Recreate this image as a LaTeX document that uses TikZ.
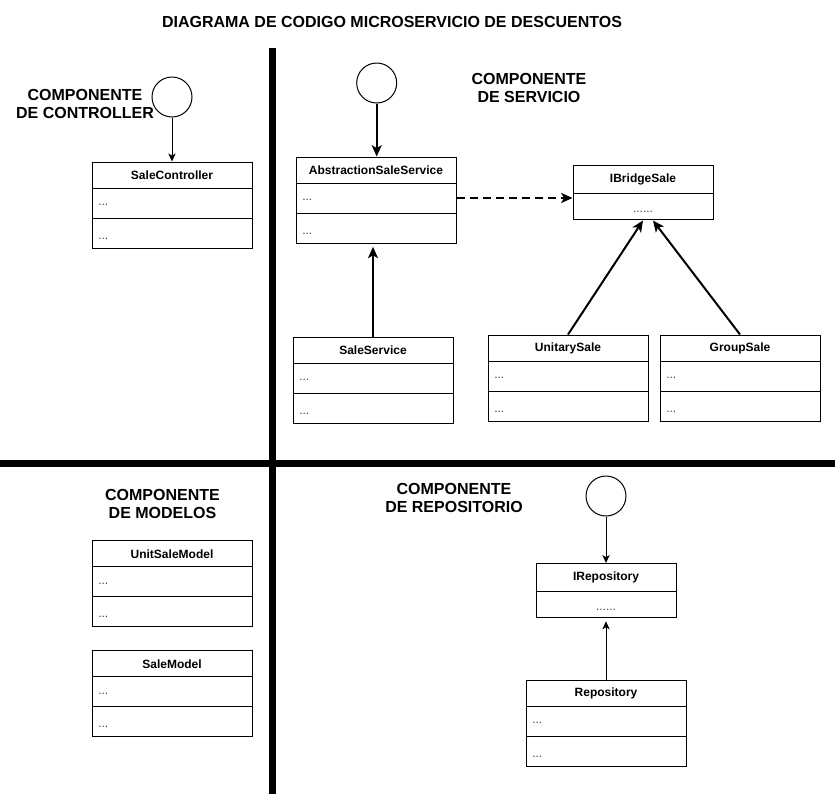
\documentclass[tikz,border=0pt]{standalone}
\usepackage{fontspec}
\setmainfont{Liberation Sans}
\usetikzlibrary{arrows.meta,calc,fit}
\tikzset{
  boxframe/.style={draw, line width=0.75pt, inner sep=0pt},
  sep/.style={line width=0.75pt},
  clsname/.style={font=\bfseries\fontsize{9}{10}\selectfont, inner sep=0pt},
  dots/.style={font=\fontsize{9}{10}\selectfont, text=black!75, inner sep=0pt, anchor=base west},
  cdots/.style={font=\fontsize{9}{10}\selectfont, text=black!75, inner sep=0pt, anchor=base},
  heading/.style={font=\bfseries\fontsize{12}{13.5}\selectfont, align=center, inner sep=0pt},
  circ/.style={circle, draw, line width=0.75pt, minimum size=30pt, inner sep=0pt},
  thinarrow/.style={line width=0.75pt, -{Stealth[length=6pt,width=5.5pt,inset=1.6pt]}},
  thickarrow/.style={line width=1.5pt, -{Stealth[length=8.5pt,width=7.5pt,inset=2.2pt]}},
  divider/.style={line width=4.8pt},
}
% three-part class box: name, x, y, width, title
\newcommand{\umlbox}[5]{%
  \coordinate (#1-nw) at (#2,#3);
  \coordinate (#1-se) at ($(#2,#3)+(#4,86)$);
  \node[boxframe, fit=(#1-nw)(#1-se)] (#1) {};
  \node[clsname] (#1-t) at ($(#2,#3)+({#4/2},13.5)$) {#5};
  \draw[sep] ($(#2,#3)+(0,26)$) -- ++(#4,0);
  \draw[sep] ($(#2,#3)+(0,56)$) -- ++(#4,0);
  \node[dots] (#1-a) at ($(#2,#3)+(6,43.5)$) {...};
  \node[dots] (#1-b) at ($(#2,#3)+(6,77)$) {...};
}
% two-part interface box: name, x, y, width, title
\newcommand{\umliface}[5]{%
  \coordinate (#1-nw) at (#2,#3);
  \coordinate (#1-se) at ($(#2,#3)+(#4,54)$);
  \node[boxframe, fit=(#1-nw)(#1-se)] (#1) {};
  \node[clsname] (#1-t) at ($(#2,#3)+({#4/2},14)$) {#5};
  \draw[sep] ($(#2,#3)+(0,28)$) -- ++(#4,0);
  \node[cdots] (#1-a) at ($(#2,#3)+({#4/2},47)$) {......};
}
\begin{document}
\begin{tikzpicture}[x=0.75pt, y=-0.75pt]
\useasboundingbox (0,0) rectangle (835,794);

% title
\node[font=\bfseries\fontsize{12}{14}\selectfont, inner sep=0pt] (title) at (392,22) {DIAGRAMA DE CODIGO MICROSERVICIO DE DESCUENTOS};

% quadrant separators
\draw[divider] (272.5,48) -- (272.5,794);
\draw[divider] (0,463.5) -- (835,463.5);

% headings
\node[heading] (hctrl) at (85,104) {COMPONENTE\\DE CONTROLLER};
\node[heading] (hserv) at (529,87.5) {COMPONENTE\\DE SERVICIO};
\node[heading] (hmod) at (162.5,504) {COMPONENTE\\DE MODELOS};
\node[heading] (hrep) at (454,497.5) {COMPONENTE\\DE REPOSITORIO};

% circles
\node[circ] (c1) at (172,97) {};
\node[circ] (c2) at (376.7,83) {};
\node[circ] (c3) at (606,496) {};

% classes
\umlbox{ctrl}{92}{162}{160}{SaleController}
\umlbox{abs}{296}{157}{160}{AbstractionSaleService}
\umlbox{svc}{293}{337}{160}{SaleService}
\umlbox{us}{488}{335}{160}{UnitarySale}
\umlbox{gs}{660}{335}{160}{GroupSale}
\umlbox{usm}{92}{540.5}{160}{UnitSaleModel}
\umlbox{sm}{92}{650.5}{160}{SaleModel}
\umlbox{rep}{526}{680}{160}{Repository}
\umliface{ib}{573}{165}{140}{IBridgeSale}
\umliface{irep}{536}{563.5}{140}{IRepository}

% connectors
\draw[thinarrow] (c1.south) -- (ctrl.north);
\draw[thickarrow] (c2.south) -- (c2.south |- abs.north);
\draw[thickarrow, shorten >=2.5pt] (svc.north) -- (svc.north |- abs.south);
\coordinate (dstart) at ($(abs.east)+(0,-2)$);
\draw[thickarrow, dash pattern=on 6pt off 3.75pt] (dstart) -- (dstart -| ib.west);
\coordinate (ibl) at ($(ib.south)+(0,1)$);
\coordinate (ibr) at ($(ib.south)+(10,1)$);
\draw[thickarrow] (us.north) -- (ibl);
\draw[thickarrow] (gs.north) -- (ibr);
\draw[thinarrow] (c3.south) -- (irep.north);
\draw[thinarrow, shorten >=2.5pt] (rep.north) -- (irep.south);
\end{tikzpicture}
\end{document}
